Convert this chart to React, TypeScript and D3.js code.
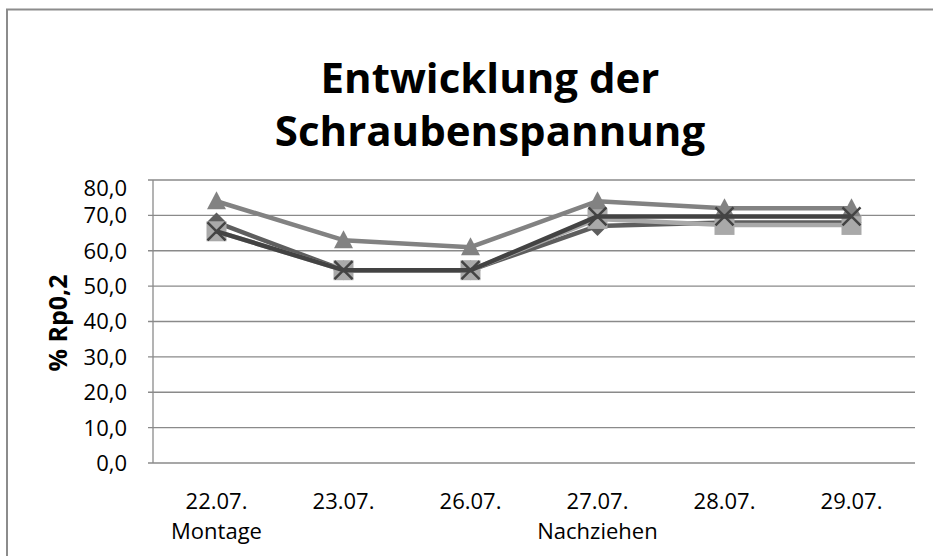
import { useEffect, useRef } from "react";
import * as d3 from "d3";

// Kategorien (zweizeilig wie im Original)
const dates = ["22.07.", "23.07.", "26.07.", "27.07.", "28.07.", "29.07."];
const subLabels = ["Montage", "", "", "Nachziehen", "", ""];
const yTicks = [0, 10, 20, 30, 40, 50, 60, 70, 80];

// Messreihen (% Rp0,2)
const rauteWerte = [68, 54.5, 54.5, 67, 68, 68];
const quadratWerte = [65.5, 54.5, 54.5, 69, 67.3, 67.3];
const dreieckWerte = [74, 63, 61, 74, 72, 72];
const kreuzWerte = [65.5, 54.5, 54.5, 69.7, 69.7, 69.7];

const seriesList = [
  { name: "Raute", values: rauteWerte, color: "#5e5e5e", marker: "diamond" },
  { name: "Quadrat", values: quadratWerte, color: "#a9a9a9", marker: "square" },
  { name: "Dreieck", values: dreieckWerte, color: "#828282", marker: "triangle" },
  { name: "Kreuz", values: kreuzWerte, color: "#434343", marker: "x" },
];

export default function App() {
  const svgRef = useRef<SVGSVGElement>(null);

  useEffect(() => {
    if (!svgRef.current) return;
    const svg = d3.select(svgRef.current);
    svg.selectAll("*").remove();

    const width = 933;
    const height = 556;
    const plot = { left: 153, right: 915, top: 180, bottom: 463 };
    const font = "'Open Sans', 'Noto Sans', sans-serif";

    svg.attr("width", width).attr("height", height);

    // Rahmen
    svg
      .append("rect")
      .attr("x", 7)
      .attr("y", 9.5)
      .attr("width", width + 10)
      .attr("height", height + 10)
      .attr("fill", "white")
      .attr("stroke", "#8c8c8c")
      .attr("stroke-width", 2);

    // Titel
    const title = svg
      .append("text")
      .attr("text-anchor", "middle")
      .attr("font-family", font)
      .attr("font-weight", "bold")
      .attr("font-size", 42)
      .attr("fill", "#000");
    title.append("tspan").attr("x", 490).attr("y", 93).text("Entwicklung der");
    title.append("tspan").attr("x", 490).attr("y", 146).text("Schraubenspannung");

    const x = d3
      .scalePoint<string>()
      .domain(dates)
      .range([plot.left, plot.right])
      .padding(0.5);
    const y = d3
      .scaleLinear()
      .domain([0, 80])
      .range([plot.bottom, plot.top]);

    // Gitternetzlinien
    svg
      .append("g")
      .selectAll("line")
      .data(yTicks)
      .enter()
      .append("line")
      .attr("x1", plot.left - 5)
      .attr("x2", plot.right)
      .attr("y1", (d) => y(d))
      .attr("y2", (d) => y(d))
      .attr("stroke", "#8a8a8a")
      .attr("stroke-width", 1.3);

    // y-Achse
    svg
      .append("line")
      .attr("x1", plot.left)
      .attr("x2", plot.left)
      .attr("y1", plot.top)
      .attr("y2", plot.bottom)
      .attr("stroke", "#8a8a8a")
      .attr("stroke-width", 1.3);

    // y-Beschriftung
    svg
      .append("g")
      .selectAll("text")
      .data(yTicks)
      .enter()
      .append("text")
      .attr("x", 127)
      .attr("y", (d) => y(d) + (d === 80 ? 8 : 0))
      .attr("dy", "0.36em")
      .attr("text-anchor", "end")
      .attr("font-family", font)
      .attr("font-size", 22)
      .attr("fill", "#000")
      .text((d) => d3.format(".1f")(d).replace(".", ","));

    svg
      .append("text")
      .attr("transform", `translate(67,323) rotate(-90)`)
      .attr("text-anchor", "middle")
      .attr("font-family", font)
      .attr("font-weight", "bold")
      .attr("font-size", 25)
      .text("% Rp0,2");

    // x-Beschriftung
    const xl = svg.append("g");
    dates.forEach((d, i) => {
      xl.append("text")
        .attr("x", x(d)!)
        .attr("y", 509)
        .attr("text-anchor", "middle")
        .attr("font-family", font)
        .attr("font-size", 22)
        .text(d);
      if (subLabels[i]) {
        xl.append("text")
          .attr("x", x(d)!)
          .attr("y", 539)
          .attr("text-anchor", "middle")
          .attr("font-family", font)
          .attr("font-size", 22)
          .text(subLabels[i]);
      }
    });

    // Linien + Marker
    const line = d3
      .line<number>()
      .x((_, i) => x(dates[i])!)
      .y((v) => y(v));

    seriesList.forEach((s) => {
      const g = svg.append("g");
      g.append("path")
        .datum(s.values)
        .attr("d", line)
        .attr("fill", "none")
        .attr("stroke", s.color)
        .attr("stroke-width", 4.5)
        .attr("stroke-linejoin", "round");

      s.values.forEach((v, i) => {
        const cx = x(dates[i])!;
        const cy = y(v);
        if (s.marker === "square") {
          g.append("rect")
            .attr("x", cx - 10)
            .attr("y", cy - 10)
            .attr("width", 20)
            .attr("height", 20)
            .attr("fill", s.color);
        } else if (s.marker === "diamond") {
          g.append("path")
            .attr("d", `M${cx},${cy - 10}L${cx + 10},${cy}L${cx},${cy + 10}L${cx - 10},${cy}Z`)
            .attr("fill", s.color);
        } else if (s.marker === "triangle") {
          g.append("path")
            .attr("d", `M${cx},${cy - 10}L${cx + 9.5},${cy + 8}L${cx - 9.5},${cy + 8}Z`)
            .attr("fill", s.color);
        } else {
          g.append("path")
            .attr("d", `M${cx - 9},${cy - 9}L${cx + 9},${cy + 9}M${cx + 9},${cy - 9}L${cx - 9},${cy + 9}`)
            .attr("stroke", s.color)
            .attr("stroke-width", 2.5);
        }
      });
    });
  }, []);

  return (
    <svg
      ref={svgRef}
      style={{ position: "absolute", left: 0, top: 0, display: "block" }}
    />
  );
}
